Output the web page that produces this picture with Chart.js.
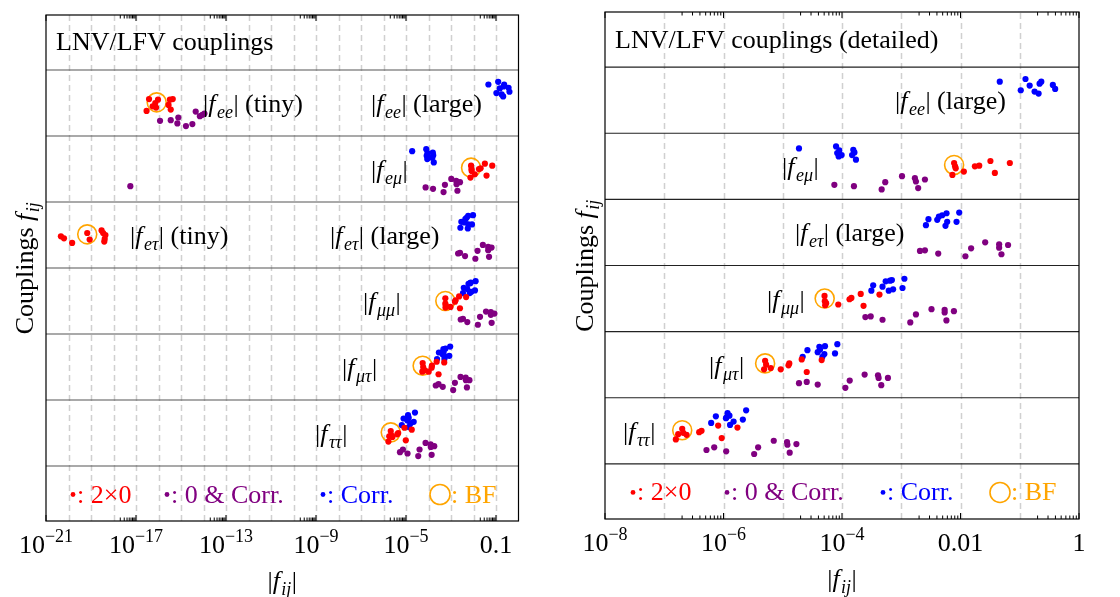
<!DOCTYPE html>
<html>
<head>
<meta charset="utf-8">
<title>LNV/LFV couplings</title>
<script src="https://cdn.jsdelivr.net/npm/chart.js"></script>
<style>
  body { margin: 0; background: #fff; }
  .panel { position: absolute; top: 0; width: 560px; height: 597px; }
  #left { left: 0; }
  #right { left: 560px; }
</style>
</head>
<body>
<div class="panel" id="left"><canvas id="chart-left" width="560" height="597"></canvas></div>
<div class="panel" id="right"><canvas id="chart-right" width="560" height="597"></canvas></div>
<script>
// each point: [ |f_ij| , vertical offset inside its row (row units, + = up) ]

// f_ee
const eeTiny2x0 = [[2.95e-17,-0.12],[3.8e-17,0.06],[5.5e-17,-0.05],[7.2e-17,0.0],[9.5e-17,0.05],[7.8e-17,-0.07],[3.2e-16,0.05],[4.3e-16,0.06],[3.5e-16,-0.10],[2.8e-16,-0.03]];
const eeTinyBF = [[8.3e-17,0.01]];
const eeTiny0Corr = [[1.17e-16,-0.27],[3.5e-16,-0.26],[7.6e-16,-0.22],[6.9e-16,-0.31],[1.66e-15,-0.35],[3.2e-15,-0.32],[4.5e-15,-0.13],[6.9e-15,-0.20],[8.9e-15,-0.18],[1.1e-14,-0.16]];
const eeCorr = [[0.046,0.28],[0.125,0.32],[0.104,0.15],[0.147,0.22],[0.178,0.13],[0.208,0.10],[0.216,0.25],[0.231,0.28],[0.362,0.23],[0.396,0.17]];

// f_emu
const emu2x0 = [[7.8e-3,0.05],[8.3e-3,-0.03],[7.3e-3,-0.13],[1.14e-2,-0.08],[1.75e-2,0.0],[2.07e-2,0.01],[3.2e-2,0.08],[3.8e-2,-0.10],[6.8e-2,0.05],[8.1e-3,0.0]];
const emuBF = [[7.8e-3,0.02]];
const emu0Corr = [[7.43e-5,-0.28],[1.59e-4,-0.30],[4.67e-4,-0.35],[5.37e-4,-0.24],[1.03e-3,-0.15],[1.70e-3,-0.18],[1.77e-3,-0.23],[1.93e-3,-0.33],[2.51e-3,-0.20]];
const emu0CorrTiny = [[5.6e-18,-0.26]];
const emuCorr = [[1.88e-5,0.27],[7.94e-5,0.30],[9.0e-5,0.24],[9.86e-5,0.17],[8.79e-5,0.15],[1.55e-4,0.25],[1.48e-4,0.17],[1.72e-4,0.10],[1.62e-4,0.21],[8.3e-5,0.20]];

// f_etau
const etauTiny2x0 = [[4.6e-21,-0.02],[6.3e-21,-0.05],[1.45e-20,-0.12],[6.8e-20,0.03],[8.7e-20,-0.07],[2.95e-19,0.07],[3.47e-19,0.03],[4.37e-19,0.0],[4.07e-19,-0.06],[3.89e-19,-0.10]];
const etauTinyBF = [[6.8e-20,0.01]];
const etau0Corr = [[2.07e-3,-0.28],[2.51e-3,-0.27],[4.21e-3,-0.32],[1.21e-2,-0.36],[1.51e-2,-0.24],[2.61e-2,-0.15],[4.49e-2,-0.18],[4.49e-2,-0.23],[4.91e-2,-0.33],[6.35e-2,-0.19]];
const etauCorr = [[2.61e-3,0.11],[2.88e-3,0.20],[4.05e-3,0.19],[4.32e-3,0.24],[4.91e-3,0.26],[5.58e-3,0.10],[5.96e-3,0.16],[5.81e-3,0.29],[8.57e-3,0.16],[9.51e-3,0.30]];

// f_mumu, f_mutau, f_tautau (detailed panel)
const mumu2x0 = [[5.07e-5,0.04],[5.13e-5,-0.04],[5.2e-5,-0.10],[8.65e-5,-0.09],[1.34e-4,-0.01],[1.44e-4,0.01],[2.07e-4,0.07],[2.31e-4,-0.11],[4.29e-4,0.06],[5.4e-5,-0.07]];
const mumuBF = [[5.1e-5,0.0]];
const mumu0Corr = [[2.48e-4,-0.28],[3.05e-4,-0.27],[4.83e-4,-0.32],[1.42e-3,-0.36],[1.77e-3,-0.24],[3.24e-3,-0.16],[5.40e-3,-0.17],[5.40e-3,-0.21],[5.79e-3,-0.33],[7.74e-3,-0.19]];
const mumuCorr = [[3.13e-4,0.12],[3.36e-4,0.20],[4.83e-4,0.18],[5.46e-4,0.26],[6.15e-4,0.12],[6.46e-4,0.27],[6.95e-4,0.28],[7.29e-4,0.14],[1.05e-3,0.16],[1.13e-3,0.30]];

const mutau2x0 = [[5.04e-6,0.06],[5.24e-6,0.0],[4.84e-6,-0.07],[6.28e-6,-0.05],[9.25e-6,-0.07],[1.25e-5,-0.01],[1.29e-5,0.02],[2.09e-5,0.08],[2.54e-5,-0.11],[4.54e-5,0.07]];
const mutauBF = [[5.04e-6,0.02]];
const mutau0Corr = [[1.88e-5,-0.28],[2.54e-5,-0.26],[3.89e-5,-0.30],[1.14e-4,-0.35],[1.35e-4,-0.24],[2.41e-4,-0.15],[4.05e-4,-0.16],[4.15e-4,-0.20],[4.60e-4,-0.31],[5.96e-4,-0.20]];
const mutauCorr = [[2.17e-5,0.12],[2.61e-5,0.22],[3.89e-5,0.19],[4.15e-5,0.27],[5.16e-5,0.28],[4.67e-5,0.12],[5.04e-5,0.16],[4.26e-5,0.23],[7.62e-5,0.17],[8.34e-5,0.31]];

const tautau2x0 = [[2.01e-7,0.03],[1.72e-7,-0.05],[2.38e-7,-0.06],[1.57e-7,-0.13],[3.89e-7,-0.02],[4.26e-7,0.0],[8.13e-7,0.08],[9.33e-7,-0.11],[1.72e-6,0.05],[2.09e-7,-0.03]];
const tautauBF = [[2.01e-7,0.01]];
const tautau0Corr = [[5.16e-7,-0.29],[6.97e-7,-0.25],[1.11e-6,-0.31],[3.29e-6,-0.35],[3.84e-6,-0.25],[7.05e-6,-0.15],[1.18e-5,-0.17],[1.20e-5,-0.21],[1.31e-5,-0.33],[1.70e-5,-0.20]];
const tautauCorr = [[6.19e-7,0.12],[7.43e-7,0.22],[1.10e-6,0.19],[1.17e-6,0.27],[1.26e-6,0.23],[1.48e-6,0.14],[1.29e-6,0.09],[2.12e-6,0.17],[2.41e-6,0.31],[1.12e-6,0.20]];

// f_mumu, f_mutau, f_tautau as drawn in the overview panel
const mumu2x0L = [[5.6e-4,0.04],[5.6e-4,-0.04],[5.7e-4,-0.10],[9.5e-4,-0.09],[1.5e-3,-0.01],[1.6e-3,0.01],[2.3e-3,0.07],[2.5e-3,-0.11],[4.7e-3,0.06],[5.9e-4,-0.07]];
const mumuBFL = [[5.6e-4,0.0]];
const mumu0CorrL = [[2.7e-3,-0.28],[3.4e-3,-0.27],[5.3e-3,-0.32],[1.56e-2,-0.36],[1.95e-2,-0.24],[3.6e-2,-0.16],[5.9e-2,-0.17],[5.9e-2,-0.21],[6.4e-2,-0.33],[8.5e-2,-0.19]];
const mumuCorrL = [[3.4e-3,0.12],[3.7e-3,0.20],[5.3e-3,0.18],[6.0e-3,0.26],[6.8e-3,0.12],[7.1e-3,0.27],[7.6e-3,0.28],[8.0e-3,0.14],[1.16e-2,0.16],[1.24e-2,0.30]];

const mutau2x0L = [[5.5e-5,0.06],[5.8e-5,0.0],[5.3e-5,-0.07],[6.9e-5,-0.05],[1.02e-4,-0.07],[1.38e-4,-0.01],[1.42e-4,0.02],[2.3e-4,0.08],[2.8e-4,-0.11],[5.0e-4,0.07]];
const mutauBFL = [[5.5e-5,0.02]];
const mutau0CorrL = [[2.1e-4,-0.28],[2.8e-4,-0.26],[4.3e-4,-0.30],[1.25e-3,-0.35],[1.49e-3,-0.24],[2.65e-3,-0.15],[4.5e-3,-0.16],[4.6e-3,-0.20],[5.1e-3,-0.31],[6.6e-3,-0.20]];
const mutauCorrL = [[2.4e-4,0.12],[2.9e-4,0.22],[4.3e-4,0.19],[4.6e-4,0.27],[5.7e-4,0.28],[5.1e-4,0.12],[5.5e-4,0.16],[4.7e-4,0.23],[8.4e-4,0.17],[9.2e-4,0.31]];

const tautau2x0L = [[2.1e-6,0.03],[1.8e-6,-0.05],[2.5e-6,-0.06],[1.65e-6,-0.13],[4.1e-6,-0.02],[4.5e-6,0.0],[8.5e-6,0.08],[9.8e-6,-0.11],[1.8e-5,0.05],[2.2e-6,-0.03]];
const tautauBFL = [[2.1e-6,0.01]];
const tautau0CorrL = [[5.4e-6,-0.29],[7.3e-6,-0.25],[1.17e-5,-0.31],[3.5e-5,-0.35],[4.0e-5,-0.25],[7.4e-5,-0.15],[1.24e-4,-0.17],[1.26e-4,-0.21],[1.38e-4,-0.33],[1.8e-4,-0.20]];
const tautauCorrL = [[6.5e-6,0.12],[7.8e-6,0.22],[1.16e-5,0.19],[1.23e-5,0.27],[1.32e-5,0.23],[1.55e-5,0.14],[1.35e-5,0.09],[2.2e-5,0.17],[2.5e-5,0.31],[1.18e-5,0.20]];

// axis ticks
const leftTickValues = [1e-21, 1e-17, 1e-13, 1e-9, 1e-5, 0.1];
const leftTickLabels = ['10^-21', '10^-17', '10^-13', '10^-9', '10^-5', '0.1'];
const rightTickValues = [1e-8, 1e-6, 1e-4, 0.01, 1];
const rightTickLabels = ['10^-8', '10^-6', '10^-4', '0.01', '1'];

const legendTexts = [': 2\u00d70', ': 0 & Corr.', ': Corr.', ': BF'];

const RED = '#ff0000', PURPLE = '#800080', BLUE = '#0000ff', ORANGE = '#ffa500';
const SERIF = '"Liberation Serif", "Times New Roman", serif';
const Y_MIN = -0.333, Y_MAX = 7.333;   // legend strip below row 1, title strip above row 6

const FONTS = {
  rm:  { font: '26px ' + SERIF, dy: 0, gap: 0 },
  it:  { font: 'italic 26px ' + SERIF, dy: 0, gap: 1.5 },
  sub: { font: 'italic 18px ' + SERIF, dy: 6, gap: 0.5 },
  sup: { font: '18px ' + SERIF, dy: -11, gap: 0 }
};

function absF(sub, tail) {
  const p = [['|', 'rm'], ['f', 'it'], [sub, 'sub'], ['|', 'rm']];
  if (tail) p.push([' ' + tail, 'rm']);
  return p;
}

function richWidth(ctx, parts) {
  let w = 0;
  parts.forEach(([t, k]) => { ctx.font = FONTS[k].font; w += ctx.measureText(t).width + FONTS[k].gap; });
  return w;
}

function drawRich(ctx, parts, x, y, align) {
  const w = richWidth(ctx, parts);
  let cx = align === 'center' ? x - w / 2 : (align === 'right' ? x - w : x);
  ctx.textAlign = 'left';
  ctx.textBaseline = 'alphabetic';
  parts.forEach(([t, k]) => {
    ctx.font = FONTS[k].font;
    ctx.fillText(t, cx, y + FONTS[k].dy);
    cx += ctx.measureText(t).width + FONTS[k].gap;
  });
}

function tickParts(label) {
  if (label.indexOf('^') < 0) return [[label, 'rm']];
  const [b, e] = label.split('^');
  return [[b, 'rm'], [e.replace('-', '\u2212'), 'sup']];
}

function toPoints(list, row) {
  return list.map(p => ({ x: p[0], y: row + p[1] }));
}

function buildDatasets(series) {
  const red = [], purple = [], blue = [], bf = [];
  series.forEach(s => {
    red.push(...toPoints(s.red, s.row));
    purple.push(...toPoints(s.purple, s.row));
    blue.push(...toPoints(s.blue, s.row));
    bf.push(...toPoints(s.bf, s.row));
  });
  const dot = (label, data, color) => ({
    label, data, pointRadius: 3.1, pointBorderWidth: 0,
    pointBackgroundColor: color, pointBorderColor: color
  });
  // first dataset is painted on top
  return [
    dot('2\u00d70', red, RED),
    dot('Corr.', blue, BLUE),
    dot('0 & Corr.', purple, PURPLE),
    { label: 'BF', data: bf, pointRadius: 9.5, pointBorderWidth: 1.6,
      pointBackgroundColor: 'rgba(0,0,0,0)', pointBorderColor: ORANGE }
  ];
}

function panelPlugin(cfg) {
  return {
    id: 'panelDecor',
    beforeDatasetsDraw(chart) {
      const { ctx, chartArea: a, scales: { x, y } } = chart;
      ctx.save();
      // dashed line at every decade
      ctx.strokeStyle = '#d0d0d0';
      ctx.lineWidth = 1.5;
      ctx.setLineDash([6, 4]);
      const lo = Math.round(Math.log10(x.min)), hi = Math.round(Math.log10(x.max));
      for (let k = lo + 1; k < hi; k++) {
        const px = Math.round(x.getPixelForValue(Math.pow(10, k))) + 0.5;
        ctx.beginPath();
        ctx.moveTo(px, a.bottom);
        ctx.lineTo(px, a.top);
        ctx.stroke();
      }
      ctx.setLineDash([]);
      // row separators
      ctx.strokeStyle = cfg.rowLine;
      ctx.lineWidth = 1.2;
      for (let r = 0.5; r <= 6.5; r += 1) {
        const py = y.getPixelForValue(r);
        ctx.beginPath();
        ctx.moveTo(a.left, py);
        ctx.lineTo(a.right, py);
        ctx.stroke();
      }
      ctx.restore();
    },
    afterDatasetsDraw(chart) {
      const { ctx, chartArea: a, scales: { x, y } } = chart;
      ctx.save();
      // frame
      ctx.strokeStyle = '#000';
      ctx.lineWidth = 1.2;
      ctx.strokeRect(a.left, a.top, a.right - a.left, a.bottom - a.top);

      // inward ticks top and bottom
      ctx.lineWidth = 1;
      const tick = (v, len) => {
        const px = x.getPixelForValue(v);
        if (px < a.left - 0.5 || px > a.right + 0.5) return;
        ctx.beginPath();
        ctx.moveTo(px, a.bottom); ctx.lineTo(px, a.bottom - len);
        ctx.moveTo(px, a.top); ctx.lineTo(px, a.top + len);
        ctx.stroke();
      };
      cfg.tickValues.forEach(v => {
        tick(v, 6);
        for (let m = 2; m <= 9; m++) {
          const mv = m * v / 10;
          if (mv > x.min) tick(mv, 3.5);
        }
      });

      // tick labels
      ctx.fillStyle = '#000';
      cfg.tickValues.forEach((v, i) => {
        drawRich(ctx, tickParts(cfg.tickLabels[i]), x.getPixelForValue(v), a.bottom + 32, 'center');
      });

      // axis titles
      const cxMid = (a.left + a.right) / 2;
      drawRich(ctx, [['|', 'rm'], ['f', 'it'], ['ij', 'sub'], ['|', 'rm']], cxMid, a.bottom + 68, 'center');
      ctx.save();
      ctx.translate(33, (a.top + a.bottom) / 2);
      ctx.rotate(-Math.PI / 2);
      drawRich(ctx, [['Couplings ', 'rm'], ['f', 'it'], ['ij', 'sub']], 0, 0, 'center');
      ctx.restore();

      // title strip
      const titleMid = (y.getPixelForValue(6.5) + a.top) / 2;
      drawRich(ctx, [[cfg.title, 'rm']], a.left + 10, titleMid + 8, 'left');

      // row labels
      cfg.labels.forEach(l => {
        drawRich(ctx, l.parts, l.x, y.getPixelForValue(l.row) + 9, 'left');
      });

      // legend strip
      const legMid = (y.getPixelForValue(0.5) + a.bottom) / 2 + 1;
      const colors = [RED, PURPLE, BLUE, ORANGE];
      const slots = [73, 167, 323, 440];
      legendTexts.forEach((t, i) => {
        const cx = slots[i];
        ctx.fillStyle = colors[i];
        ctx.strokeStyle = colors[i];
        let tx;
        if (i < 3) {
          ctx.beginPath();
          ctx.arc(cx, legMid, 2.4, 0, Math.PI * 2);
          ctx.fill();
          tx = cx + 4;
        } else {
          ctx.lineWidth = 1.6;
          ctx.beginPath();
          ctx.arc(cx, legMid, 10, 0, Math.PI * 2);
          ctx.stroke();
          tx = cx + 11;
        }
        drawRich(ctx, [[t, 'rm']], tx, legMid + 8, 'left');
      });
      ctx.restore();
    }
  };
}

function makeChart(canvasId, series, xMin, padding, cfg) {
  return new Chart(document.getElementById(canvasId), {
    type: 'scatter',
    data: { datasets: buildDatasets(series) },
    options: {
      responsive: false,
      animation: false,
      devicePixelRatio: 1,
      events: [],
      layout: { padding },
      scales: {
        x: { type: 'logarithmic', min: xMin, max: 1, display: false },
        y: { type: 'linear', min: Y_MIN, max: Y_MAX, display: false }
      },
      plugins: { legend: { display: false }, tooltip: { enabled: false } }
    },
    plugins: [panelPlugin(cfg)]
  });
}

const leftSeries = [
  { row: 6, red: eeTiny2x0, purple: eeTiny0Corr, blue: eeCorr, bf: eeTinyBF },
  { row: 5, red: emu2x0, purple: emu0Corr.concat(emu0CorrTiny), blue: emuCorr, bf: emuBF },
  { row: 4, red: etauTiny2x0, purple: etau0Corr, blue: etauCorr, bf: etauTinyBF },
  { row: 3, red: mumu2x0L, purple: mumu0CorrL, blue: mumuCorrL, bf: mumuBFL },
  { row: 2, red: mutau2x0L, purple: mutau0CorrL, blue: mutauCorrL, bf: mutauBFL },
  { row: 1, red: tautau2x0L, purple: tautau0CorrL, blue: tautauCorrL, bf: tautauBFL }
];

const rightSeries = [
  { row: 6, red: [], purple: [], blue: eeCorr, bf: [] },
  { row: 5, red: emu2x0, purple: emu0Corr, blue: emuCorr, bf: emuBF },
  { row: 4, red: [], purple: etau0Corr, blue: etauCorr, bf: [] },
  { row: 3, red: mumu2x0, purple: mumu0Corr, blue: mumuCorr, bf: mumuBF },
  { row: 2, red: mutau2x0, purple: mutau0Corr, blue: mutauCorr, bf: mutauBF },
  { row: 1, red: tautau2x0, purple: tautau0Corr, blue: tautauCorr, bf: tautauBF }
];

makeChart('chart-left', leftSeries, 1e-21, { left: 46, right: 41.5, top: 15, bottom: 76 }, {
  title: 'LNV/LFV couplings',
  rowLine: '#555',
  tickValues: leftTickValues,
  tickLabels: leftTickLabels,
  labels: [
    { row: 6, x: 203, parts: absF('ee', '(tiny)') },
    { row: 6, x: 371, parts: absF('ee', '(large)') },
    { row: 5, x: 371, parts: absF('e\u03bc') },
    { row: 4, x: 130, parts: absF('e\u03c4', '(tiny)') },
    { row: 4, x: 330, parts: absF('e\u03c4', '(large)') },
    { row: 3, x: 363, parts: absF('\u03bc\u03bc') },
    { row: 2, x: 342, parts: absF('\u03bc\u03c4') },
    { row: 1, x: 315, parts: absF('\u03c4\u03c4') }
  ]
});

makeChart('chart-right', rightSeries, 1e-8, { left: 45, right: 41, top: 12, bottom: 78 }, {
  title: 'LNV/LFV couplings (detailed)',
  rowLine: '#222',
  tickValues: rightTickValues,
  tickLabels: rightTickLabels,
  labels: [
    { row: 6, x: 335, parts: absF('ee', '(large)') },
    { row: 5, x: 222, parts: absF('e\u03bc') },
    { row: 4, x: 235, parts: absF('e\u03c4', '(large)') },
    { row: 3, x: 207, parts: absF('\u03bc\u03bc') },
    { row: 2, x: 149, parts: absF('\u03bc\u03c4') },
    { row: 1, x: 63, parts: absF('\u03c4\u03c4') }
  ]
});
</script>
</body>
</html>
